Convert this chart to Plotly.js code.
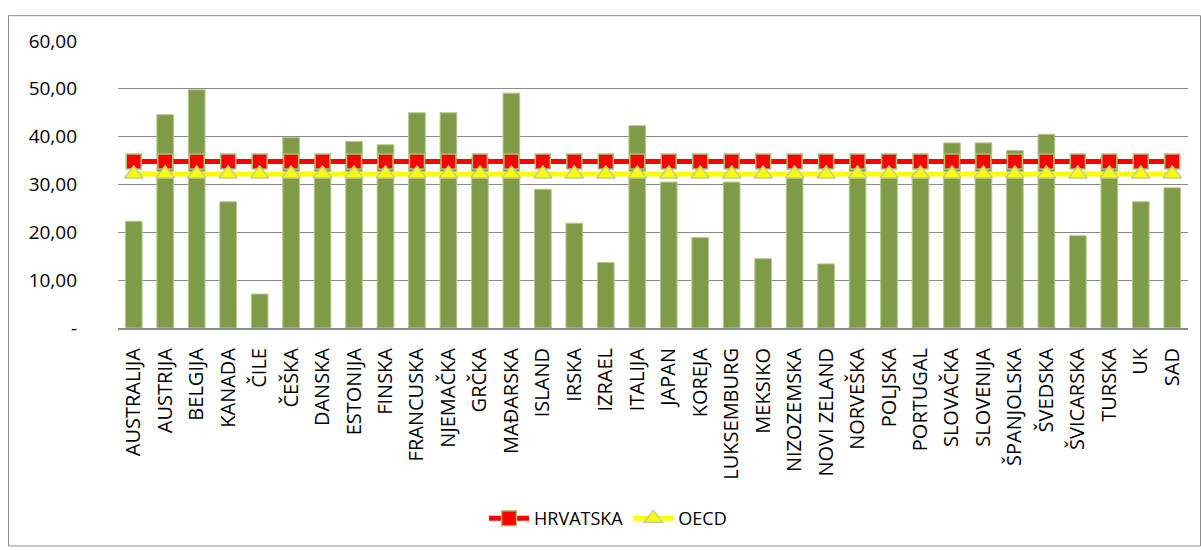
<!DOCTYPE html>
<html>
<head>
<meta charset="utf-8">
<script src="https://cdn.plot.ly/plotly-3.0.1.min.js"></script>
<style>
  html, body { margin: 0; padding: 0; background: #ffffff; }
  #chart { width: 1201px; height: 550px; }
</style>
</head>
<body>
<div id="chart"></div>
<script>
const countries = ["AUSTRALIJA","AUSTRIJA","BELGIJA","KANADA","ČILE","ČEŠKA","DANSKA","ESTONIJA","FINSKA","FRANCUSKA","NJEMAČKA","GRČKA","MAĐARSKA","ISLAND","IRSKA","IZRAEL","ITALIJA","JAPAN","KOREJA","LUKSEMBURG","MEKSIKO","NIZOZEMSKA","NOVI ZELAND","NORVEŠKA","POLJSKA","PORTUGAL","SLOVAČKA","SLOVENIJA","ŠPANJOLSKA","ŠVEDSKA","ŠVICARSKA","TURSKA","UK","SAD"];
const countryValues = [22.3,44.6,49.8,26.4,7.1,39.8,35.5,39.0,38.3,45.0,45.0,35.6,49.1,29.0,21.9,13.7,42.3,30.5,18.9,30.5,14.5,32.0,13.4,33.6,32.2,32.5,38.7,38.7,37.1,40.5,19.3,35.9,26.4,29.3];
const hrvatska = [34.8,34.8,34.8,34.8,34.8,34.8,34.8,34.8,34.8,34.8,34.8,34.8,34.8,34.8,34.8,34.8,34.8,34.8,34.8,34.8,34.8,34.8,34.8,34.8,34.8,34.8,34.8,34.8,34.8,34.8,34.8,34.8,34.8,34.8];
const oecd = [32.2,32.2,32.2,32.2,32.2,32.2,32.2,32.2,32.2,32.2,32.2,32.2,32.2,32.2,32.2,32.2,32.2,32.2,32.2,32.2,32.2,32.2,32.2,32.2,32.2,32.2,32.2,32.2,32.2,32.2,32.2,32.2,32.2,32.2];
const yTickVals = [0,10,20,30,40,50,60];
const yTickText = ["-","10,00","20,00","30,00","40,00","50,00","60,00"];

const FONT = "Open Sans, Liberation Sans, sans-serif";

const traces = [
  {
    type: "bar",
    x: countries,
    y: countryValues,
    name: "Zemlje",
    showlegend: false,
    marker: { color: "#7F9B48", line: { color: "#B5C98E", width: 1 } },
    hoverinfo: "skip"
  },
  {
    type: "scatter",
    mode: "lines+markers",
    x: countries,
    y: hrvatska,
    name: "HRVATSKA",
    line: { color: "#FF0000", width: 5 },
    marker: { symbol: "square", size: 15, color: "#FF0000", line: { color: "#A9C47A", width: 1.5 } },
    hoverinfo: "skip"
  },
  {
    type: "scatter",
    mode: "lines+markers",
    x: countries,
    y: oecd,
    name: "OECD",
    line: { color: "#FFFF00", width: 5 },
    marker: { symbol: "triangle-up", size: 16, color: "#FFFF00", line: { color: "#BFCB9A", width: 1.5 } },
    hoverinfo: "skip"
  }
];

const L = 118, R = 1188, T = 41, B = 330;
const pw = R - L, ph = B - T;
function px2x(p) { return (p - L) / pw; }
function px2y(p) { return (B - p) / ph; }

const layout = {
  width: 1201,
  height: 550,
  margin: { l: L, r: 1201 - R, t: T, b: 550 - B, pad: 0 },
  paper_bgcolor: "#ffffff",
  plot_bgcolor: "#ffffff",
  font: { family: FONT, color: "#000000" },
  bargap: 0.47,
  showlegend: true,
  legend: {
    orientation: "h",
    x: 0.458, xanchor: "center",
    y: px2y(522), yanchor: "middle",
    font: { family: FONT, size: 18, color: "#000000" },
    bgcolor: "rgba(0,0,0,0)",
    itemwidth: 40,
    traceorder: "normal"
  },
  xaxis: {
    type: "category",
    range: [-0.5, countries.length - 0.5],
    autorange: false,
    tickangle: -90,
    tickfont: { family: FONT, size: 20, color: "#000000" },
    ticks: "",
    showline: true,
    linecolor: "#8A8A8A",
    linewidth: 2,
    showgrid: false,
    zeroline: false,
    ticklabelstandoff: 10,
    fixedrange: true
  },
  yaxis: {
    range: [0, 60],
    tickvals: yTickVals,
    ticktext: yTickText,
    tickfont: { family: FONT, size: 19, color: "#000000" },
    ticks: "",
    showgrid: true,
    gridcolor: "#8C8C8C",
    gridwidth: 1,
    zeroline: false,
    showline: false,
    ticklabelstandoff: 40,
    fixedrange: true
  },
  shapes: [
    {
      type: "rect",
      xref: "paper", yref: "paper",
      x0: px2x(8.5), x1: px2x(1200.5),
      y0: px2y(549.5), y1: px2y(15.5),
      line: { color: "#8C8C8C", width: 1 },
      fillcolor: "rgba(0,0,0,0)",
      layer: "below"
    }
  ]
};

Plotly.newPlot("chart", traces, layout, { displayModeBar: false, staticPlot: true });
</script>
</body>
</html>
